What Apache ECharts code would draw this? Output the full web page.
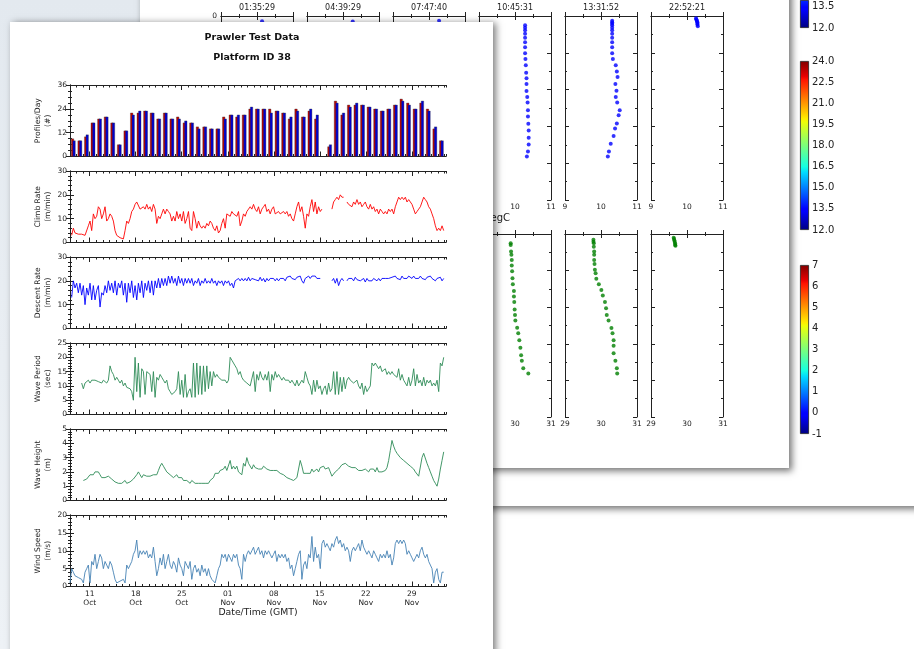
<!DOCTYPE html>
<html><head><meta charset="utf-8">
<script src="https://cdn.jsdelivr.net/npm/echarts@6/dist/echarts.min.js"></script>
<style>
html,body{margin:0;padding:0;width:914px;height:649px;overflow:hidden;background:#fff;}
.abs{position:absolute;}
#desk{left:0;top:0;width:140px;height:649px;background:linear-gradient(180deg,#e3e9ef,#eef2f6);}
#winC{left:430px;top:-20px;width:520px;height:526px;background:#fff;box-shadow:0 3px 7px rgba(0,0,0,0.55);}
#winP{left:140px;top:-20px;width:649px;height:488px;background:#fff;box-shadow:3px 3px 7px rgba(0,0,0,0.55);}
#chartA{left:0;top:0;width:914px;height:649px;}
#winF{left:10px;top:22px;width:483px;height:660px;background:#fff;box-shadow:3px 1px 7px rgba(0,0,0,0.5);}
#chartB{left:0;top:0;width:914px;height:649px;}
</style></head>
<body>
<div id="desk" class="abs"></div>
<div id="winC" class="abs"></div>
<div id="winP" class="abs"></div>
<div id="chartA" class="abs"></div>
<div id="winF" class="abs"></div>
<div id="chartB" class="abs"></div>
<script>
// ================= DATA =================
// x axis of the Prawler figure: days since 2013-10-08 00:00 GMT
const X_MAX_DAYS = 57.2;
const TICK_DAYS = [3, 10, 17, 24, 31, 38, 45, 52];
const TICK_DAY_LABELS = ['11', '18', '25', '01', '08', '15', '22', '29'];
const TICK_MONTH_LABELS = ['Oct', 'Oct', 'Oct', 'Nov', 'Nov', 'Nov', 'Nov', 'Nov'];

// Profiles per day (one value per day, day 0 = 08 Oct)
const profilesRed = [9,8,10,17,19,20,17,6,13,22,22,23,22,19,22,19,20,17,17,15,15,14,14,20,21,20,21,24,24,24,24,23,22,19,24,20,23,19,null,5,28,21,26,26,26,25,24,23,24,26,29,27,24,27,24,14,8];
const profilesBlue = [8,8,11,17,19,20,17,6,13,21,23,23,22,19,22,19,19,18,17,14,15,14,14,19,21,21,21,25,24,24,22,23,22,20,23,20,24,21,null,6,27,22,25,27,26,25,24,23,24,26,28,26,24,28,23,15,8];

// time series sampled every SAMPLE_STEP days, starting at the given day
const SAMPLE_STEP = 0.2538;
const climbStart = 0.254;
const climbRate = [
 3,6,4,3.5,3.5,3.5,3.5,3,3,3.5, 7,9,5,12,10,11,15,14,10,12, 15,9,10,12,11,9,5,3,2.5,2,
 1.5,1.5,5,9,8,10,13,14,16,17, 17,14,14,15,14,16,14,15,13,16, 14,8,11,10,12,14,12,14,13,12,
 9,11,9,13,10,12,9,13,8,10, 13,6,5,13,10,6,9,7,6,7, 6,8,7,9,8,6,5,7,4,5,
 8,10,6,12,12,11,13,12,12,11, 13,7,9,12,11,13,14,15,14,16, 14,13,15,12,14,15,16,13,14,12,
 14,15,12,12,13,12,12,13,12,13, 11,12,10,9,12,15,17,13,15,11, 6,12,11,15,18,13,17,12,15,13,
 14,null,null,null,null,null,14,17,18,19, 18,20,19,19,null,17,16,16,15,17, 16,18,16,17,15,16,17,15,14,16,
 14,15,13,14,12,14,13,12,13,12, 14,13,14,12,15,17,19,18,19,18, 19,17,18,17,16,14,12,13,14,15,
 17,19,18,17,15,14,12,10,7,5, 6,5,7,5];
const descentStart = 0.254;
const descentRate = [
 13,20,17,19,15,19,14,18,10,17, 14,19,12,18,12,16,18,9,15,14, 18,15,20,16,19,15,20,14,19,17,
 20,14,19,11,19,15,20,13,18,12, 19,15,20,13,19,16,20,15,20,14, 20,17,21,17,21,18,21,18,22,19,
 22,19,21,18,22,19,21,18,21,19, 21,19,21,18,20,19,21,18,20,19, 21,19,20,19,21,19,20,18,20,19,
 20,18,20,19,20,18,19,17,20,20, 21,20,21,20,21,20,21.5,20,21,21.5, 20.5,21,20,21.5,20,21,19.5,21,20,21,
 20.5,21,20,21,20,21,20.5,21,20,21.5, 21,22,21,21.5,20.5,21.5,21,22,20,19, 21,21.5,22,21,22,21.5,22,21,21.5,21,
 null,null,null,null,null,null,20,21,19,21, 18,20,21,20,null,20,21,20.5,21,20, 21.5,20.5,21,20,20.5,21,19.5,21,20,20.5,
 20,21,20.5,20,21,20,21,20.5,21,21.5, 21,20.5,21.5,21,22,21,21.5,20.5,22,21, 21.5,21,22,21.5,21,22,21,21.5,21,22,
 21,21.5,20.5,21.5,21,22,21,21.5,20,21, 20.5,21.5,20,21];
const wavePeriodStart = 1.777;
const wavePeriod = [
 11,9,11,10.5,12,11,12,11.5,12,12, 11.5,12,11,12,12,11,12,17,15,14, 12,13,12,11,12,10,11,9.5,10,9,
 8,5,20,8,18,6,16,15,7,15, 15,14,8,15,6,13,12,14,13,12, 11,12,9,8,7,7,8,9,15,7,
 12,6,14,6,8,9,6,18,6,18, 7,17,7,17,8,17,9,15,10,15, 13,14,13,13,12,12,12,11,12,20,
 19,18,17,16,14,15,13,12,12,11, 11,10,10,15,8,14,12,15,13,12, 14,12,15,8,14,12,15,13,14,13,
 12,13,12,12,12,11,12,11,10,12, 10,11,12,11,15,13,11,10,7,12, 8,12,9,10,7,9,10,7,11,8,
 9,15,7,15,7,13,8,13,9,12, 13,12,12,11,11,12,10,9,11,7, 10,8,9,10,18,17,18,17,16,17,
 15,15,16,14,15,14,15,14,14,13, 16,12,14,12,11,10,13,10,12,16, 10,14,11,12,10,13,10,12,11,12,
 10,11,10,12,8,18,17,20];
const waveHeightStart = 2.03;
const waveHeight = [
 1.4,1.3,1.5,1.6,1.8,1.9,1.8,2.0,1.9,2.0, 1.8,1.6,1.5,1.6,1.5,1.7,1.8,1.5,1.4,1.3,
 1.3,1.2,1.2,1.2,1.1,1.4,1.2,1.1,1.3,1.4, 1.5,1.6,1.8,2.0,1.8,1.6,1.8,1.9,1.7,1.8,
 1.7,1.6,1.8,1.7,1.8,2.1,2.4,2.6,2.4,2.2, 2.0,1.9,1.8,1.7,1.6,1.7,1.8,1.6,1.5,1.6,
 1.4,1.5,1.4,1.3,1.2,1.4,1.3,1.2,1.3,1.2, 1.3,1.2,1.3,1.2,1.3,1.2,1.4,1.5,1.6,1.9,
 2.0,1.9,2.1,2.0,2.2,2.4,2.1,2.0,2.8,2.2, 2.4,2.2,2.4,2.0,1.9,1.8,2.6,2.4,3.0,2.6,
 2.5,2.2,2.5,2.3,2.4,2.2,2.3,2.2,2.4,2.3, 2.2,2.2,2.1,2.2,2.1,2.0,2.1,2.0,1.9,1.8,
 1.8,1.7,1.6,1.5,1.5,1.4,1.4,1.5,1.6,2.2, 2.8,2.4,1.9,1.8,1.9,2.0,1.9,2.2,2.0,2.1,
 2.2,2.0,2.3,2.2,2.4,2.2,2.1,2.3,2.0,1.7, 1.8,2.0,2.1,2.2,2.3,2.5,2.5,2.6,2.5,2.4,
 2.5,2.3,2.2,2.3,2.2,2.1,2.2,2.1,2.0,2.2, 2.1,2.0,2.2,2.1,2.2,2.0,2.3,2.0,2.1,2.0,
 2.0,2.1,2.3,2.8,3.5,4.2,3.8,3.5,3.3,3.2, 3.0,2.9,2.8,2.7,2.6,2.5,2.4,2.3,2.2,2.0,
 1.9,1.7,1.8,3.0,3.3,3.2,2.6,2.3,2.0,1.7, 1.4,1.2,1.0,1.5,2.2,2.8,3.4];
const windStart = 0.0;
const windSpeed = [
 1,5,4,3,3.5,2.5,2,2,1,4, 5,6,1,7,6,9,5,7,9,8, 5,7,6,5,7,6,4,2,1,0.5,
 1.5,1,2,1,6,5,6,7,9,10, 13,8,10,9,10,9,10,8,9,8, 11,7,3,5,8,6,9,5,7,9,
 6,5,7,6,4,8,6,5,3,7, 6,5,7,2,5,6,4,5,3,6, 4,5,3,5,3,2,2,1,3,5,
 6,9,8,9,7,9,8,7,9,8, 9,6,5,2,9,7,9,10,9,10, 11,9,10,11,9,10,8,10,9,10,
 9,8,9,10,7,9,8,9,8,9, 7,8,5,6,3,5,7,9,10,2, 6,7,5,9,8,14,7,11,8,9,
 5,12,13,11,12,11,10,12,11,13, 14,12,13,11,12,10,11,10,7,10, 11,10,11,12,10,13,11,10,9,10,
 9,8,10,9,8,7,9,8,9,8, 10,8,9,6,8,12,13,12,13,12, 13,12,9,10,9,8,7,8,9,8,
 10,11,9,8,9,7,6,5,1,4, 5,2,1,4,4];

// ---- background profile window ----
const PROFILE_TIMES = ['01:35:29', '04:39:29', '07:47:40', '10:45:31', '13:31:52', '22:52:21'];
const TEMP_TICKS_MIN = 9, TEMP_TICKS_MAX = 11;
const SAL_MIN = 29, SAL_MAX = 31;
const DEPTH_MAX = 50;
// temperature profiles (degC) vs depth, one pair of arrays per profile
const temp1 = [10.14], depthT1 = [1.4];
const temp2 = [10.27], depthT2 = [1.5];
const temp3 = [10.28], depthT3 = [1.3];
const temp4 = [10.28,10.28,10.28,10.28,10.28,10.28,10.28,10.28,10.29,10.30,10.31,10.32,10.32,10.32,10.34,10.35,10.36,10.36,10.37,10.38,10.38,10.38,10.36,10.33];
const depthT4 = [2.5,3.2,3.9,4.8,5.9,7.1,8.5,10.1,11.7,13.4,15.4,16.9,18.5,20.4,22.0,23.5,25.6,27.3,29.3,31.1,33.1,34.9,36.8,38.2];
const temp5 = [10.31,10.31,10.31,10.31,10.31,10.31,10.31,10.31,10.31,10.31,10.31,10.33,10.41,10.44,10.46,10.40,10.43,10.41,10.45,10.52,10.49,10.44,10.39,10.35,10.27,10.22,10.19];
const depthT5 = [1.3,1.7,2.1,2.5,3.2,3.9,4.8,5.9,7.1,8.5,10.1,11.7,13.4,15.1,16.6,18.5,20.3,22.0,23.5,25.6,27.0,29.2,30.6,32.6,34.7,36.8,38.2];
const temp6 = [10.25,10.26,10.27,10.28,10.29,10.29,10.29,10.30];
const depthT6 = [0.6,0.9,1.2,1.5,1.8,2.1,2.4,2.8];
// salinity profiles (visible ones: 4,5,6)
const sal4 = [29.88,29.88,29.89,29.90,29.91,29.91,29.92,29.93,29.94,29.97,29.97,29.98,29.99,30.00,30.01,30.06,30.09,30.12,30.15,30.17,30.19,30.23,30.37];
const depthS4 = [2.5,3.0,4.8,5.7,7.1,8.6,10.2,12.1,13.7,15.6,17.1,18.6,20.6,22.1,23.6,25.6,27.1,29.0,31.1,33.1,34.6,36.7,38.1];
const sal5 = [29.79,29.79,29.80,29.80,29.81,29.81,29.81,29.82,29.83,29.85,29.87,29.94,30.01,30.05,30.11,30.14,30.16,30.21,30.29,30.32,30.35,30.35,30.35,30.40,30.44,30.45];
const depthS5 = [1.6,2.1,2.5,3.5,4.8,5.7,7.1,8.2,9.8,10.7,12.2,13.7,15.3,16.8,18.6,20.3,22.1,23.6,25.7,27.1,29.0,30.5,32.6,34.6,36.7,38.1];
const sal6 = [29.63,29.64,29.65,29.66,29.67,29.67,29.68];
const depthS6 = [1.0,1.4,1.8,2.2,2.6,3.0,3.2];

// colorbars
const CB_TEMP_MIN = 12, CB_TEMP_MAX = 24, CB_TEMP_STEP = 1.5;
const CB_TOP_VISIBLE_MAX = 13.99;   // only the lowest part of the first bar is on screen
const CB_OTHER_MIN = -1, CB_OTHER_MAX = 7, CB_OTHER_STEP = 1;

// ================= STYLE / LAYOUT =================
const FONT = 'DejaVu Sans';
const INK = '#222';
const JET = [[0,'#800000'],[0.09,'#e80000'],[0.11,'#ff1300'],[0.34,'#ffec00'],[0.36,'#efff07'],[0.5,'#7bff7b'],[0.625,'#14ffe2'],[0.66,'#00dbff'],[0.875,'#0000ff'],[0.89,'#0000ff'],[1,'#000080']];
const JET_LOW = [[0,'#002aff'],[0.25,'#0000ff'],[0.34,'#0000ff'],[1,'#000080']];

function zip(a, b) { return a.map((v, i) => [v, b[i]]); }
function sampled(start, vals) { return vals.map((v, i) => [start + i * SAMPLE_STEP, v]); }

// ================= BACKGROUND (profiles + colorbars) =================
(function () {
  const chart = echarts.init(document.getElementById('chartA'), null, { renderer: 'canvas' });
  const grids = [], xAxis = [], yAxis = [], series = [], graphic = [];
  const lefts = [221, 307, 393, 479, 565, 651];
  const tempData = [[temp1, depthT1], [temp2, depthT2], [temp3, depthT3], [temp4, depthT4], [temp5, depthT5], [temp6, depthT6]];
  const salData = [null, null, null, [sal4, depthS4], [sal5, depthS5], [sal6, depthS6]];
  const line = { show: true, lineStyle: { color: INK, width: 1 } };
  function addPanel(left, top, height, xmin, xmax, title, showY, data, color) {
    const g = grids.length;
    grids.push({ left: left, top: top, width: 72, height: height });
    const bx = { type: 'value', gridIndex: g, min: xmin, max: xmax, interval: 1, splitLine: { show: false },
      axisLine: line, axisTick: { inside: true, length: 4, lineStyle: { color: INK } },
      minorTick: { show: true, splitNumber: 2, length: 2, lineStyle: { color: INK } } };
    xAxis.push(Object.assign({}, bx, { position: 'bottom',
      axisLabel: { fontFamily: FONT, fontSize: 7.5, color: INK, margin: 3 } }));
    xAxis.push(Object.assign({}, bx, { position: 'top', axisLabel: { show: false },
      name: title || '', nameLocation: 'middle', nameGap: 4,
      nameTextStyle: { fontFamily: FONT, fontSize: 8, color: INK } }));
    const by = { type: 'value', gridIndex: g, min: 0, max: DEPTH_MAX, interval: 10, inverse: true, splitLine: { show: false },
      axisLine: line, axisTick: { inside: true, length: 4, lineStyle: { color: INK } },
      minorTick: { show: true, splitNumber: 2, length: 2, lineStyle: { color: INK } } };
    yAxis.push(Object.assign({}, by, { position: 'left',
      axisLabel: { show: showY, fontFamily: FONT, fontSize: 7.5, color: INK, margin: 4 } }));
    yAxis.push(Object.assign({}, by, { position: 'right', axisLabel: { show: false } }));
    series.push({ type: 'scatter', xAxisIndex: 2 * g, yAxisIndex: 2 * g, symbolSize: 4,
      itemStyle: { color: color }, data: zip(data[0], data[1]), silent: true });
  }
  for (let i = 0; i < 6; i++) {
    addPanel(lefts[i], 16, 184, TEMP_TICKS_MIN, TEMP_TICKS_MAX, PROFILE_TIMES[i], i === 0, tempData[i], '#0000ff');
  }
  for (let i = 3; i < 6; i++) {
    addPanel(lefts[i], 234, 183, SAL_MIN, SAL_MAX, '', false, salData[i], '#008000');
  }
  graphic.push({ type: 'text', x: 510, y: 218, style: { text: 'Temperature degC', font: '10px "DejaVu Sans"', fill: INK, textAlign: 'right', textVerticalAlign: 'middle', align: 'right', verticalAlign: 'middle' } });

  // colorbars
  function addColorbar(top, height, vmin, vmax, step, decimals, stops) {
    const g = grids.length;
    grids.push({ left: 800, top: top, width: 9, height: height });
    const xi = xAxis.length;
    xAxis.push({ type: 'category', gridIndex: g, data: ['cb'], show: false });
    const yi = yAxis.length;
    yAxis.push({ type: 'value', gridIndex: g, min: 0, max: 1, show: false });
    yAxis.push({ type: 'value', gridIndex: g, min: vmin, max: vmax, interval: step, position: 'right',
      axisLine: { show: false }, splitLine: { show: false },
      axisTick: { inside: true, length: 2, lineStyle: { color: INK } },
      axisLabel: { fontFamily: FONT, fontSize: 10, color: INK, margin: 3, showMaxLabel: (vmax - vmin) % step === 0,
        formatter: v => v.toFixed(decimals) } });
    series.push({ type: 'bar', xAxisIndex: xi, yAxisIndex: yi, data: [1], barWidth: '100%', silent: true,
      itemStyle: { borderColor: INK, borderWidth: 0.8,
        color: new echarts.graphic.LinearGradient(0, 0, 0, 1, stops.map(s => ({ offset: s[0], color: s[1] }))) } });
  }
  addColorbar(-1, 29, CB_TEMP_MIN, CB_TOP_VISIBLE_MAX, CB_TEMP_STEP, 1, JET_LOW);
  addColorbar(61, 169, CB_TEMP_MIN, CB_TEMP_MAX, CB_TEMP_STEP, 1, JET);
  addColorbar(265, 169, CB_OTHER_MIN, CB_OTHER_MAX, CB_OTHER_STEP, 0, JET);

  chart.setOption({ animation: false, grid: grids, xAxis: xAxis, yAxis: yAxis, series: series, graphic: graphic });
})();

// ================= FRONT (Prawler Test Data) =================
(function () {
  const chart = echarts.init(document.getElementById('chartB'), null, { renderer: 'canvas' });
  const PANELS = [
    { name: 'Profiles/Day\n(#)', min: 0, max: 36, interval: 12, minor: 4 },
    { name: 'Climb Rate\n(m/min)', min: 0, max: 30, interval: 10, minor: 5 },
    { name: 'Descent Rate\n(m/min)', min: 0, max: 30, interval: 10, minor: 5 },
    { name: 'Wave Period\n(sec)', min: 0, max: 25, interval: 5, minor: 5 },
    { name: 'Wave Height\n(m)', min: 0, max: 5, interval: 1, minor: 5 },
    { name: 'Wind Speed\n(m/s)', min: 0, max: 20, interval: 5, minor: 5 }
  ];
  const tops = [85, 171, 257, 343, 429, 515];
  const grids = [], xAxis = [], yAxis = [], series = [];
  const line = { show: true, lineStyle: { color: INK, width: 1 } };
  const tickStyle = { color: INK, width: 1 };
  PANELS.forEach((p, i) => {
    grids.push({ left: 70, top: tops[i], width: 376, height: 71.5 });
    const last = i === PANELS.length - 1;
    const base = { type: 'value', gridIndex: i, min: 0, max: X_MAX_DAYS, splitLine: { show: false } };
    ['bottom', 'top'].forEach(pos => {
      xAxis.push(Object.assign({}, base, { position: pos, interval: 1, axisLine: line,
        axisTick: { show: true, inside: true, length: 2.5, lineStyle: tickStyle },
        axisLabel: (last && pos === 'bottom') ? {
          fontFamily: FONT, fontSize: 7.5, color: INK, margin: 3, lineHeight: 9,
          formatter: function (v) {
            const r = Math.round(v);
            if (Math.abs(v - r) > 1e-6) return '';
            const k = TICK_DAYS.indexOf(r);
            return k < 0 ? '' : TICK_DAY_LABELS[k] + '\n' + TICK_MONTH_LABELS[k];
          } } : { show: false },
        name: (last && pos === 'bottom') ? 'Date/Time (GMT)' : '',
        nameLocation: 'middle', nameGap: 21,
        nameTextStyle: { fontFamily: FONT, fontSize: 9.3, color: INK } }));
      xAxis.push(Object.assign({}, base, { position: pos, axisLine: { show: false },
        axisTick: { show: true, inside: true, length: 5, lineStyle: tickStyle, customValues: TICK_DAYS },
        axisLabel: { show: false } }));
    });
    const ybase = { type: 'value', gridIndex: i, min: p.min, max: p.max, interval: p.interval, splitLine: { show: false },
      axisLine: line, axisTick: { inside: true, length: 4, lineStyle: tickStyle },
      minorTick: { show: true, splitNumber: p.minor, length: 2, lineStyle: tickStyle } };
    yAxis.push(Object.assign({}, ybase, { position: 'left',
      axisLabel: { fontFamily: FONT, fontSize: 7.5, color: INK, margin: 3 },
      name: p.name, nameLocation: 'middle', nameGap: 17, nameRotate: 90,
      nameTextStyle: { fontFamily: FONT, fontSize: 7.6, color: INK, lineHeight: 10, align: 'center' } }));
    yAxis.push(Object.assign({}, ybase, { position: 'right', axisLabel: { show: false } }));
  });
  const xi = i => 4 * i, yi = i => 2 * i;
  series.push({ type: 'bar', xAxisIndex: xi(0), yAxisIndex: yi(0), barWidth: 2.8, barGap: '-45%',
    itemStyle: { color: '#c00000', borderColor: '#333', borderWidth: 0.35 },
    data: profilesRed.map((v, k) => [k + 0.5, v]) });
  series.push({ type: 'bar', xAxisIndex: xi(0), yAxisIndex: yi(0), barWidth: 2.8, barGap: '-45%',
    itemStyle: { color: '#0000d0', borderColor: '#333', borderWidth: 0.35 },
    data: profilesBlue.map((v, k) => [k + 0.5, v]) });
  function addLine(i, start, vals, color) {
    series.push({ type: 'line', xAxisIndex: xi(i), yAxisIndex: yi(i), showSymbol: false, connectNulls: false,
      lineStyle: { color: color, width: 0.9 }, data: sampled(start, vals), silent: true });
  }
  addLine(1, climbStart, climbRate, '#ff0000');
  addLine(2, descentStart, descentRate, '#0000ff');
  addLine(3, wavePeriodStart, wavePeriod, '#2e8b57');
  addLine(4, waveHeightStart, waveHeight, '#2e8b57');
  addLine(5, windStart, windSpeed, '#4682b4');

  const graphic = [
    { type: 'text', x: 252, y: 38, style: { text: 'Prawler Test Data', font: 'bold 9.5px "DejaVu Sans"', fill: '#111', textAlign: 'center', textVerticalAlign: 'middle', align: 'center', verticalAlign: 'middle' } },
    { type: 'text', x: 252, y: 58, style: { text: 'Platform ID 38', font: 'bold 9.5px "DejaVu Sans"', fill: '#111', textAlign: 'center', textVerticalAlign: 'middle', align: 'center', verticalAlign: 'middle' } }
  ];
  chart.setOption({ animation: false, grid: grids, xAxis: xAxis, yAxis: yAxis, series: series, graphic: graphic });
})();
</script>
</body></html>
